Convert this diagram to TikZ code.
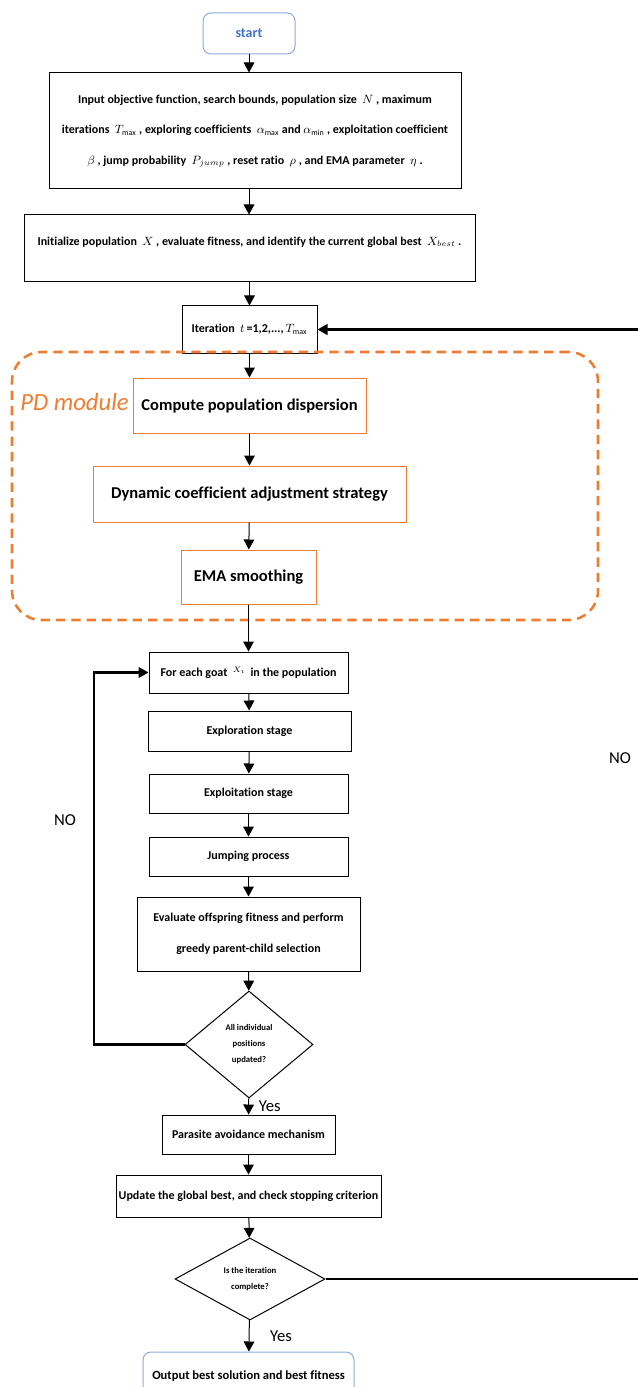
\documentclass[tikz,border=0pt]{standalone}
\usepackage{amsmath,fontspec}
\setmainfont[Ligatures=NoCommon]{Carlito}
\usetikzlibrary{arrows.meta,positioning,shapes.geometric}
\definecolor{oc}{RGB}{237,125,49}
\definecolor{bc}{RGB}{68,114,196}
\definecolor{lb}{RGB}{143,170,220}
\tikzset{b/.style={draw,line width=.75pt,align=center,inner sep=2pt,font=\bfseries\fontsize{9}{11}\selectfont},
 pb/.style={b,draw=oc,font=\bfseries\fontsize{12.4}{15}\selectfont},
 tb/.style={b,draw=lb,rounded corners=6pt},
 dm/.style={draw,diamond,line width=.75pt,inner sep=0pt,align=center,font=\bfseries\fontsize{6.5}{12}\selectfont},
 pdf/.style={draw=oc,line width=1.9pt,dash pattern=on 7pt off 4.5pt,rounded corners=22pt},
 arr/.style={-{Triangle[length=7.5pt,width=8pt]},line width=.75pt},
 lp/.style={arr,line width=1.6pt},
 lab/.style={font=\fontsize{12.5}{14}\selectfont}}
\begin{document}
\begin{tikzpicture}[x=.75pt,y=-.75pt]
\useasboundingbox (0,0) rectangle (638,1387);
\clip (0,0) rectangle (638,1387);
\node[tb,text=bc,minimum width=69pt,minimum height=30.75pt,font=\bfseries\fontsize{10.5}{12}\selectfont] (st) at (249,33.5) {start};
\node[b,minimum width=309pt,minimum height=87pt,font=\bfseries\fontsize{9}{23}\selectfont] (in) at (255,131) {Input objective function, search bounds, population size \ $N$ , maximum\\iterations \ $T_{\max}$ , exploring coefficients \ $\alpha_{\max}$ and $\alpha_{\min}$ , exploitation coefficient\\$\beta$ , jump probability \ $P_{jump}$ , reset ratio \ $\rho$ , and EMA parameter \ $\eta$ .};
\node[b,minimum width=338.25pt,minimum height=50.25pt,text depth=11pt] (ini) at (249.5,248.5) {Initialize population \ $X$ , evaluate fitness, and identify the current global best \ $X_{best}$ .};
\node[b,minimum width=101.25pt,minimum height=35.25pt] (it) at (249.5,329.5) {Iteration \ $t$\,=1,2,...,\,$T_{\max}$};
\node[pdf,minimum width=439.5pt,minimum height=201pt] (pd) at (305,486) {};
\node[text=oc,font=\itshape\fontsize{18.5}{20}\selectfont] (pdl) at (74.5,402) {PD module};
\node[pb,minimum width=174.75pt,minimum height=41.25pt] (cp) at (249.5,405.5) {Compute population dispersion};
\node[pb,minimum width=234.75pt,minimum height=42pt] (dy) at (249.5,494) {Dynamic coefficient adjustment strategy};
\node[pb,minimum width=101.25pt,minimum height=40.5pt] (em) at (248.5,577) {EMA smoothing};
\node[b,minimum width=149.25pt,minimum height=30.75pt] (fe) at (248.5,672.5) {For each goat \ \raisebox{3pt}{$\scriptstyle X_i$}\ \ in the population};
\node[b,minimum width=152.25pt,minimum height=30pt] (ex) at (249.5,731) {Exploration stage};
\node[b,minimum width=149.25pt,minimum height=29.25pt] (ep) at (248.5,793.5) {Exploitation stage};
\node[b,minimum width=149.25pt,minimum height=29.25pt] (jp) at (248.5,856.5) {Jumping process};
\node[b,minimum width=167.25pt,minimum height=55.5pt,font=\bfseries\fontsize{9}{23}\selectfont] (ev) at (248.5,934) {Evaluate offspring fitness and perform\\greedy parent-child selection};
\node[dm,minimum width=96pt,minimum height=80.25pt] (d1) at (249,1044.5) {All individual\\positions\\updated?};
\node[b,minimum width=129.75pt,minimum height=29.25pt] (pa) at (248.5,1134.5) {Parasite avoidance mechanism};
\node[b,minimum width=198.75pt,minimum height=31.5pt] (up) at (248.5,1196) {Update the global best, and check stopping criterion};
\node[dm,minimum width=112.5pt,minimum height=61.5pt] (d2) at (250,1279) {Is the iteration\\complete?};
\node[tb,minimum width=158.25pt,minimum height=36pt,font=\bfseries\fontsize{9.4}{11}\selectfont] (out) at (248.5,1376) {Output best solution and best fitness};
\coordinate (lc) at (94,1044.5);
\coordinate (rc) at (645,1279);
\node[lab] (no1) at (65,820) {NO};
\node[lab] (no2) at (620,758) {NO};
\draw[arr] (st)--(st|-in.north);
\draw[arr] (st|-in.south)--(st|-ini.north);
\draw[arr] (ini)--(it);
\draw[arr] (it)--(cp);
\draw[arr] (cp)--(dy);
\draw[arr] (dy)--(em);
\draw[arr] (em)--(fe);
\draw[arr] (fe)--(ex);
\draw[arr] (ex)--(ep);
\draw[arr] (ep)--(jp);
\draw[arr] (jp)--(ev);
\draw[arr] (ev)--(d1);
\draw[arr] (d1)--node[lab,right=4pt] (y1) {Yes}(pa);
\draw[arr] (pa)--(up);
\draw[arr] (up)--(d2);
\draw[arr] (d2)--node[lab,right=12pt] (y2) {Yes}(out);
\draw[lp] (d1.west)--(lc)|-(fe.west);
\draw[lp] (d2.east)--(rc)|-(it.east);
\end{tikzpicture}
\end{document}
